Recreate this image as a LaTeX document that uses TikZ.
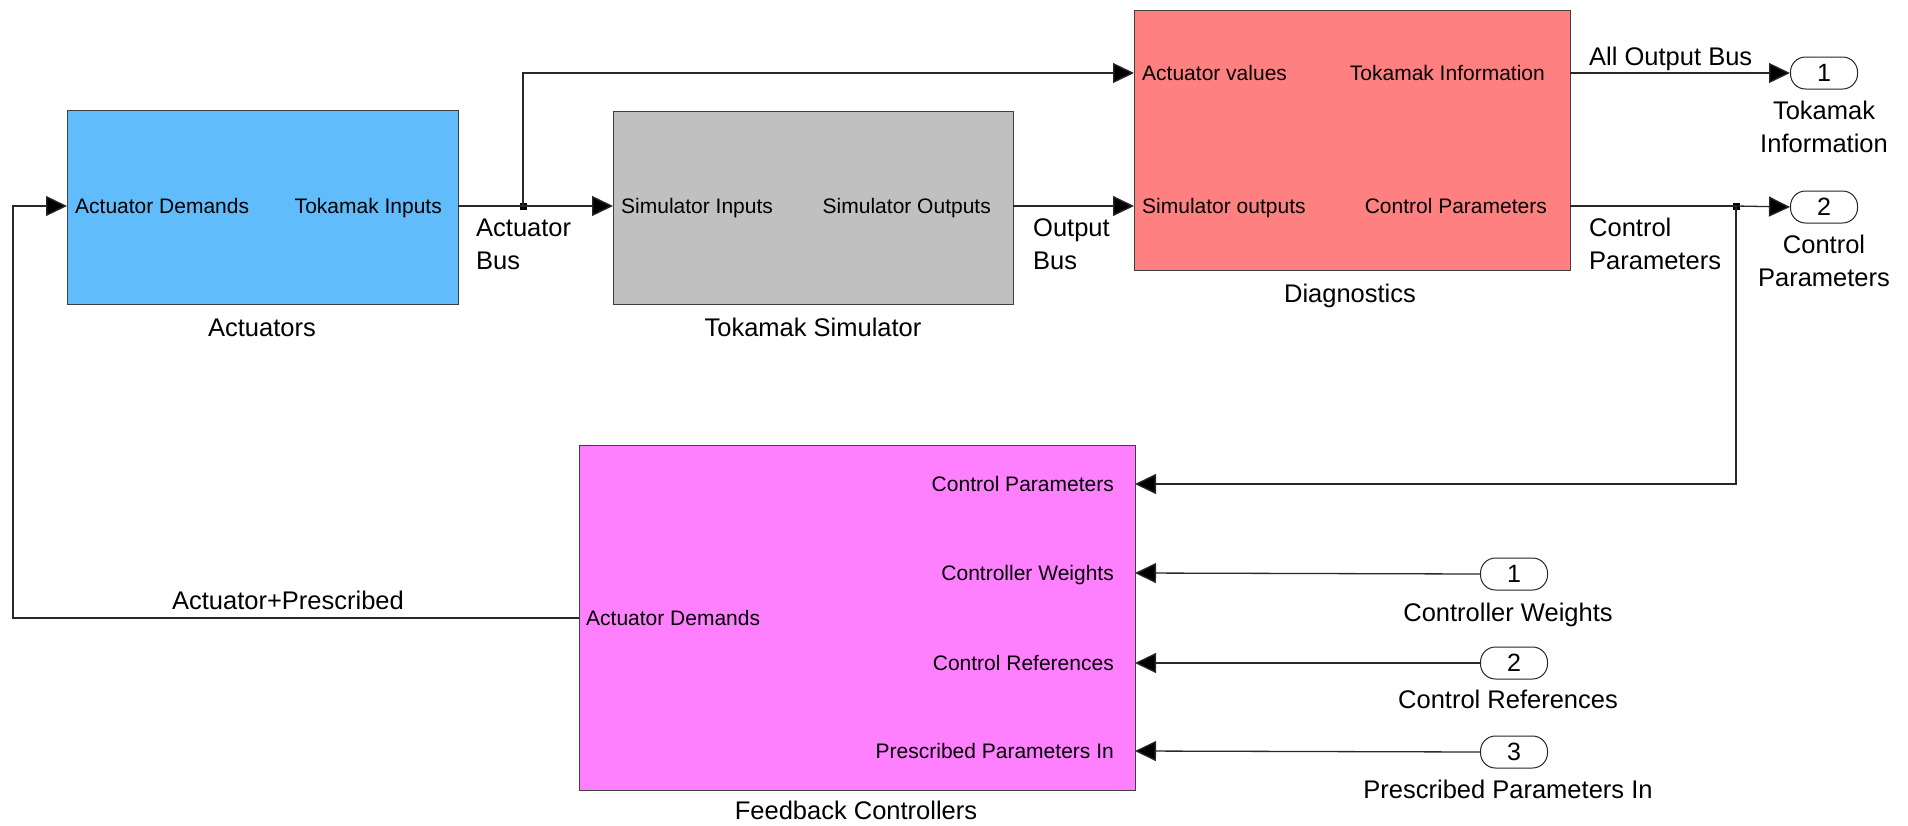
\documentclass[tikz,border=0pt]{standalone}
\usepackage{fontspec}
\setmainfont{Liberation Sans}
\usetikzlibrary{arrows.meta}
\definecolor{actblue}{RGB}{97,188,252}
\definecolor{simgray}{RGB}{192,192,192}
\definecolor{diagred}{RGB}{255,128,128}
\definecolor{fbpink}{RGB}{255,128,255}
\definecolor{wirecol}{RGB}{40,40,40}
\begin{document}
\begin{tikzpicture}[x=1pt,y=-1pt,
  blk/.style={draw=black!75, line width=1pt, inner sep=0pt, anchor=north west},
  wire/.style={draw=wirecol, line width=1.3pt},
  arr/.style={wire, -{Triangle[length=21pt,width=20pt,fill=black]}},
  portl/.style={font=\fontsize{21}{25}\selectfont, inner sep=0pt, anchor=base west, yshift=-7.5pt},
  portr/.style={font=\fontsize{21}{25}\selectfont, inner sep=0pt, anchor=base east, yshift=-7.5pt},
  lbl/.style={font=\fontsize{25.5}{33}\selectfont, inner sep=0pt},
  io/.style={draw=black!85, line width=1pt, rounded corners=15pt, minimum width=67pt, minimum height=32pt, inner sep=0pt, font=\fontsize{25}{30}\selectfont},
  jdot/.style={fill=black, minimum size=7pt, inner sep=0pt}
]
\useasboundingbox (0,0) rectangle (1908,825);

% blocks
\node[blk, fill=actblue, minimum width=391pt, minimum height=194pt] (act) at (67,110) {};
\node[blk, fill=simgray, minimum width=400pt, minimum height=193pt] (sim) at (613,111) {};
\node[blk, fill=diagred, minimum width=436pt, minimum height=260pt] (diag) at (1134,10) {};
\node[blk, fill=fbpink, minimum width=556pt, minimum height=345pt] (fb) at (579,445) {};

% block titles
\node[lbl, anchor=base] (t-act) at (262,336) {Actuators};
\node[lbl, anchor=base] (t-sim) at (813,336) {Tokamak Simulator};
\node[lbl, anchor=base] (t-diag) at (1350,302) {Diagnostics};
\node[lbl, anchor=base] (t-fb) at (856,819) {Feedback Controllers};

% port coordinates
\coordinate (act-in) at (67,206);
\coordinate (act-out) at (458,206);
\coordinate (sim-in) at (613,206);
\coordinate (sim-out) at (1013,206);
\coordinate (diag-in1) at (1134,73);
\coordinate (diag-in2) at (1134,206);
\coordinate (diag-out1) at (1570,73);
\coordinate (diag-out2) at (1570,206);
\coordinate (fb-out) at (579,618);
\coordinate (fb-in1) at (1135,484);
\coordinate (fb-in2) at (1135,573);
\coordinate (fb-in3) at (1135,663);
\coordinate (fb-in4) at (1135,751);

% port labels
\node[portl] (p-ad) at (75,206) {Actuator Demands};
\node[portr] (p-ti) at (442,206) {Tokamak Inputs};
\node[portl] (p-si) at (621,206) {Simulator Inputs};
\node[portr] (p-so) at (991,206) {Simulator Outputs};
\node[portl] (p-av) at (1142,73) {Actuator values};
\node[portr] (p-tinf) at (1545,73) {Tokamak Information};
\node[portl] (p-sout) at (1142,206) {Simulator outputs};
\node[portr] (p-cp) at (1547,206) {Control Parameters};
\node[portr] (p-fcp) at (1114,484) {Control Parameters};
\node[portr] (p-fcw) at (1114,573) {Controller Weights};
\node[portr] (p-fcr) at (1114,663) {Control References};
\node[portr] (p-fpp) at (1114,751) {Prescribed Parameters In};
\node[portl] (p-fad) at (586,618) {Actuator Demands};

% outports and inports
\node[io] (out1) at (1824,73) {1};
\node[io] (out2) at (1824,207) {2};
\node[io] (in1) at (1514,574) {1};
\node[io] (in2) at (1514,663) {2};
\node[io] (in3) at (1514,752) {3};

\node[lbl, anchor=base, align=center] (l-out1) at (1824,152) {Tokamak\\Information};
\node[lbl, anchor=base, align=center] (l-out2) at (1824,286) {Control\\Parameters};
\node[lbl, anchor=base] (l-in1) at (1508,621) {Controller Weights};
\node[lbl, anchor=base] (l-in2) at (1508,708) {Control References};
\node[lbl, anchor=base] (l-in3) at (1508,798) {Prescribed Parameters In};

% junctions
\node[jdot] (j1) at (523,206) {};
\node[jdot] (j2) at (1736,206) {};

% signal labels
\node[lbl, anchor=base west, align=left] (s-ab) at (476,269) {Actuator\\Bus};
\node[lbl, anchor=base west, align=left] (s-ob) at (1033,269) {Output\\Bus};
\node[lbl, anchor=base west] (s-aob) at (1589,65) {All Output Bus};
\node[lbl, anchor=base west, align=left] (s-cp) at (1589,269) {Control\\Parameters};
\node[lbl, anchor=base] (s-ap) at (288,609) {Actuator+Prescribed};

% connectors
\draw[wire] (act-out) -- (j1.center);
\draw[arr] (j1.center) -- (sim-in);
\draw[arr] (j1.center) |- (diag-in1);
\draw[arr] (sim-out) -- (diag-in2);
\draw[arr] (diag-out1) -- (out1.west);
\draw[wire] (diag-out2) -- (j2.center);
\draw[arr] (j2.center) -- (out2.west);
\draw[arr] (j2.center) |- (fb-in1);
\draw[arr] (in1.west) -- (fb-in2);
\draw[arr] (in2.west) -- (fb-in3);
\draw[arr] (in3.west) -- (fb-in4);
\draw[arr] (fb-out) -- (13,618) -- (13,206) -- (act-in);
\end{tikzpicture}
\end{document}
